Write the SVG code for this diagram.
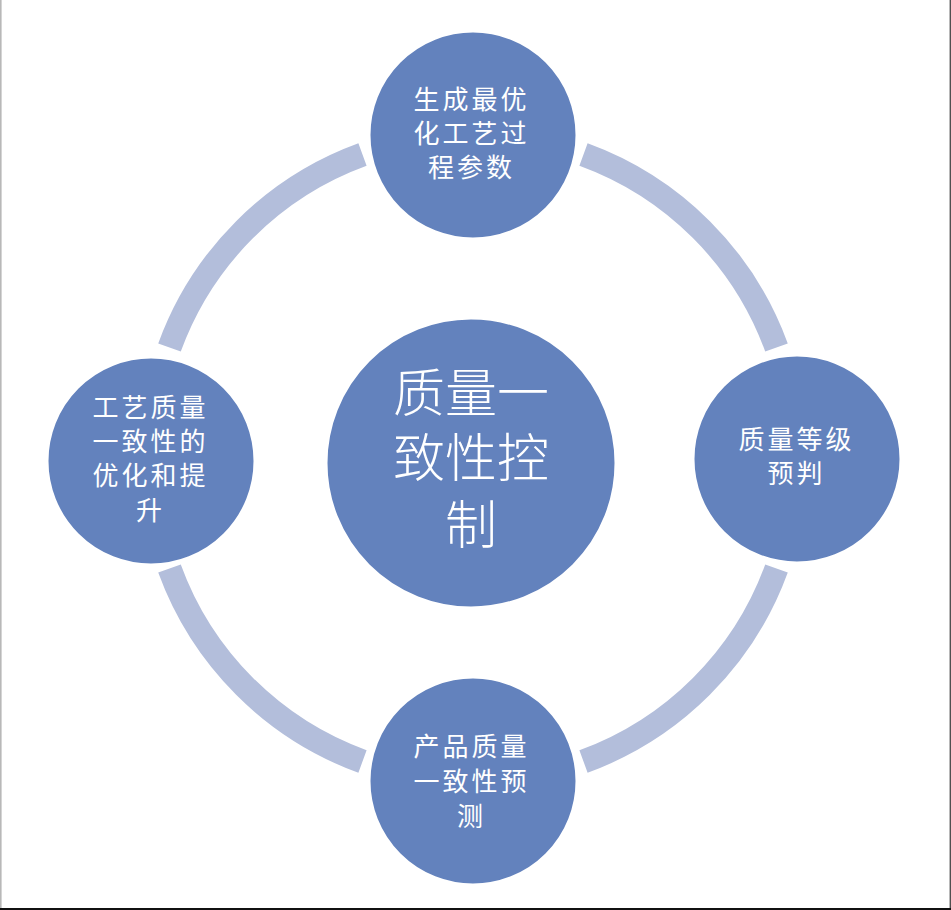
<svg xmlns="http://www.w3.org/2000/svg" width="951" height="910" viewBox="0 0 951 910">
  <style>
    .ring { fill: none; stroke: #b3bedb; stroke-width: 24; stroke-linecap: butt; }
    .node { fill: #6382bd; stroke: #ffffff; stroke-width: 3; }
    .lbl { fill: #ffffff; font-family: "Noto Sans CJK SC", "Noto Sans", sans-serif; font-size: 26px; letter-spacing: 3px; text-anchor: middle; dominant-baseline: central; }
    .big { fill: #ffffff; font-family: "Noto Sans CJK SC", "Noto Sans", sans-serif; font-size: 52px; font-weight: 300; text-anchor: middle; dominant-baseline: central; }
  </style>
  <rect x="0" y="0" width="951" height="910" fill="#ffffff"/>
  <line x1="0.8" y1="0" x2="0.8" y2="910" stroke="#b8b8b8" stroke-width="1.6"/>
  <line x1="950.3" y1="0" x2="950.3" y2="910" stroke="#505050" stroke-width="1.4"/>
  <line x1="0" y1="909" x2="951" y2="909" stroke="#111111" stroke-width="2"/>

  <g id="connectors">
    <path class="ring" d="M583.5,154.5 A323,323 0 0 1 776.5,347.5"/>
    <path class="ring" d="M776.5,568.5 A323,323 0 0 1 583.5,761.5"/>
    <path class="ring" d="M362.5,761.5 A323,323 0 0 1 169.5,568.5"/>
    <path class="ring" d="M169.5,347.5 A323,323 0 0 1 362.5,154.5"/>
  </g>

  <g id="center">
    <circle class="node" cx="471" cy="463" r="145"/>
    <text class="big" x="471" y="389">质量一</text>
    <text class="big" x="471" y="454">致性控</text>
    <text class="big" x="471" y="521">制</text>
  </g>

  <g id="top">
    <circle class="node" cx="473" cy="135" r="104"/>
    <text class="lbl" x="471.5" y="97">生成最优</text>
    <text class="lbl" x="471.5" y="131">化工艺过</text>
    <text class="lbl" x="471.5" y="165">程参数</text>
  </g>

  <g id="right">
    <circle class="node" cx="797" cy="459" r="104"/>
    <text class="lbl" x="796.5" y="437">质量等级</text>
    <text class="lbl" x="796.5" y="471">预判</text>
  </g>

  <g id="bottom">
    <circle class="node" cx="473" cy="781" r="104"/>
    <text class="lbl" x="471.5" y="744">产品质量</text>
    <text class="lbl" x="471.5" y="779">一致性预</text>
    <text class="lbl" x="471.5" y="814">测</text>
  </g>

  <g id="left">
    <circle class="node" cx="151" cy="461" r="104"/>
    <text class="lbl" x="150.5" y="405">工艺质量</text>
    <text class="lbl" x="150.5" y="439">一致性的</text>
    <text class="lbl" x="150.5" y="473">优化和提</text>
    <text class="lbl" x="150.5" y="508">升</text>
  </g>
</svg>
